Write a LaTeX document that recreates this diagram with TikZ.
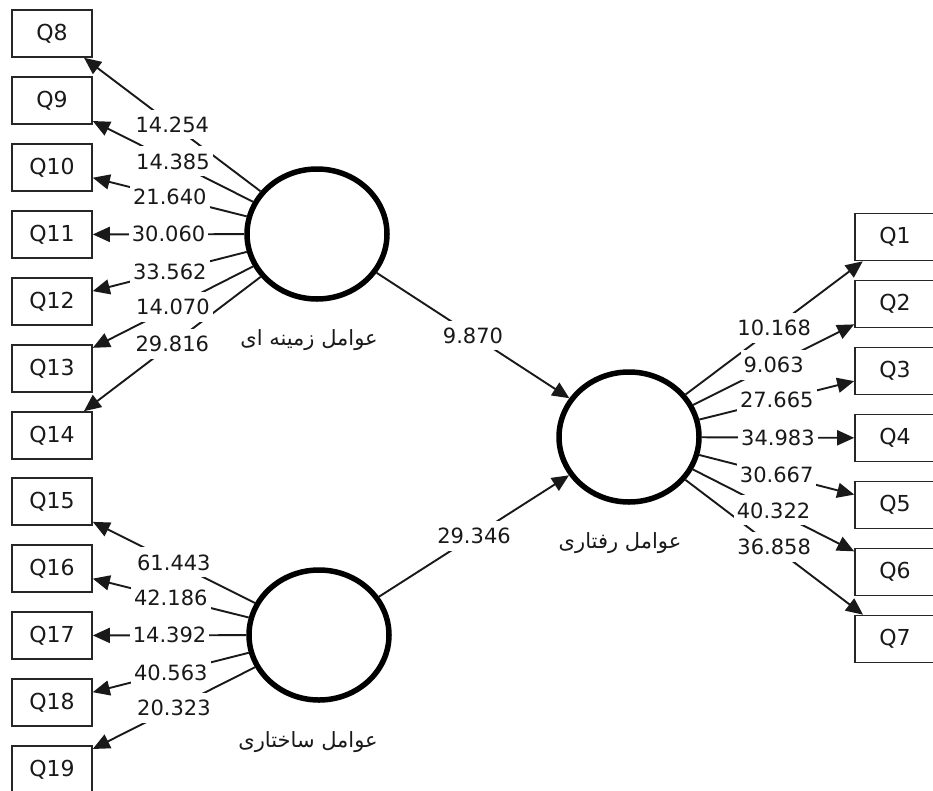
\documentclass[tikz,border=0pt]{standalone}
\usepackage{fontspec}
\setmainfont{DejaVu Sans}
\newfontfamily\arabicfont[Script=Arabic]{DejaVu Sans}
\TeXXeTstate=1
\usetikzlibrary{arrows.meta,shapes.geometric}
\tikzset{
  item/.style={draw=black!85,line width=1.6pt,minimum width=80pt,minimum height=47pt,inner sep=0pt,
    font=\fontsize{22pt}{26pt}\selectfont},
  factor/.style={ellipse,draw=black,line width=5.5pt,minimum width=140pt,minimum height=130pt},
  load/.style={-{Triangle[length=17pt,width=15pt]},line width=1.9pt,black!90},
  val/.style={fill=white,inner xsep=3pt,inner ysep=7pt},
  fname/.style={font=\arabicfont\fontsize{21pt}{25pt}\selectfont},
}
\begin{document}
\begin{tikzpicture}[x=1pt,y=-1pt,font=\fontsize{21pt}{25pt}\selectfont,text=black!90]
    \useasboundingbox (0,0) rectangle (933,790);

    % Latent variables
    \node[factor] (zamine) at (317,234) {};
    \node[factor] (sakhtar) at (319,635) {};
    \node[factor] (raftar) at (629,437) {};
    \node[fname] (zamineL) at (309,340) {\beginR عوامل زمینه ای\endR};
    \node[fname] (sakhtarL) at (308,742) {\beginR عوامل ساختاری\endR};
    \node[fname] (raftarL) at (620,543) {\beginR عوامل رفتاری\endR};

    % Indicators
    \foreach \q [count=\i from 0] in {8,...,14}
        \node[item] (q\q) at (52,33.5+67*\i) {Q\q};
    \foreach \q [count=\i from 0] in {15,...,19}
        \node[item] (q\q) at (52,501.5+67*\i) {Q\q};
    \foreach \q [count=\i from 0] in {1,...,7}
        \node[item] (q\q) at (895,237+67*\i) {Q\q};

    % Loadings
    \foreach \q in {8,...,14}
        \draw[load] (zamine) -- coordinate[midway] (m\q) (q\q);
    \foreach \q in {15,...,19}
        \draw[load] (sakhtar) -- coordinate[midway] (m\q) (q\q);
    \foreach \q in {1,...,7}
        \draw[load] (raftar) -- coordinate[midway] (m\q) (q\q);

    % Paths
    \draw[load] (zamine) -- coordinate[midway] (pz) (raftar);
    \draw[load] (sakhtar) -- coordinate[midway] (ps) (raftar);

    % Values
    \foreach \q/\v in {8/14.254,9/14.385,10/21.640,11/30.060,12/33.562,13/14.070,14/29.816,
        15/61.443,16/42.186,17/14.392,18/40.563,19/20.323,
        1/10.168,2/9.063,3/27.665,4/34.983,5/30.667,6/40.322,7/36.858}
        \node[val] (v\q) at (m\q) {\v};
    \node[val] (vz) at (pz) {9.870};
    \node[val] (vs) at (ps) {29.346};
\end{tikzpicture}
\end{document}
